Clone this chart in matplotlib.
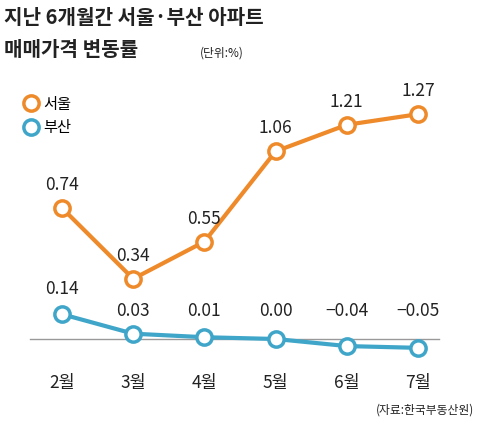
import matplotlib
matplotlib.use("Agg")
import matplotlib.pyplot as plt
from matplotlib.lines import Line2D

plt.rcParams['font.family'] = ['Noto Sans CJK KR', 'DejaVu Sans']

months = ["2월", "3월", "4월", "5월", "6월", "7월"]
seoul = [0.74, 0.34, 0.55, 1.06, 1.21, 1.27]
busan = [0.14, 0.03, 0.01, 0.00, -0.04, -0.05]
busan_labels = ["0.14", "0.03", "0.01", "0.00", "\u22120.04", "\u22120.05"]

ORANGE = "#EE8A2A"
BLUE = "#3FA6C9"
W, H = 480, 426

fig = plt.figure(figsize=(W / 100, H / 100), dpi=100)
ax = fig.add_axes([0, 0, 1, 1])
ax.set_xlim(-0.871, 5.871)
ax.set_ylim(-0.4915, 1.915)
ax.axis("off")

x = range(len(months))
ax.plot([-0.45, 5.3], [0, 0], color="#999999", lw=1, zorder=1)
ax.plot(x, seoul, color=ORANGE, lw=3, marker="o", ms=11, mfc="white",
        mec=ORANGE, mew=2.5, zorder=3)
ax.plot(x, busan, color=BLUE, lw=3, marker="o", ms=11, mfc="white",
        mec=BLUE, mew=2.5, zorder=3)

for i, v in enumerate(seoul):
    ax.text(i, v + 0.13, f"{v:.2f}", ha="center", va="center", fontsize=12.5, color="#222222")
for i, v in enumerate(busan):
    ax.text(i, v + 0.14 if i == 0 else 0.16, busan_labels[i], ha="center", va="center",
            fontsize=12.5, color="#222222")
for i, m in enumerate(months):
    ax.text(i, -0.25, m, ha="center", va="center", fontsize=12.5, color="#222222")

fig.text(4 / W, 1 - 18 / H, "지난 6개월간 서울·부산 아파트", fontsize=14.5,
         fontweight="bold", color="#222222", va="center")
fig.text(4 / W, 1 - 49 / H, "매매가격 변동률", fontsize=14.5,
         fontweight="bold", color="#222222", va="center")
fig.text(200 / W, 1 - 53 / H, "(단위:%)", fontsize=8.5, color="#222222", va="center")
fig.text(474 / W, 1 - 410 / H, "(자료:한국부동산원)", fontsize=8.5, color="#222222",
         va="center", ha="right")

handles = [Line2D([], [], color=ORANGE, marker="o", ms=11, mfc="white", mew=2.5, lw=0),
           Line2D([], [], color=BLUE, marker="o", ms=11, mfc="white", mew=2.5, lw=0)]
fig.legend(handles, ["서울", "부산"], loc="upper left", bbox_to_anchor=(8 / W, 1 - 82 / H),
           frameon=False, fontsize=11, handletextpad=0.2, labelspacing=0.4,
           handlelength=1.2)

fig.savefig("out.png", dpi=100)
